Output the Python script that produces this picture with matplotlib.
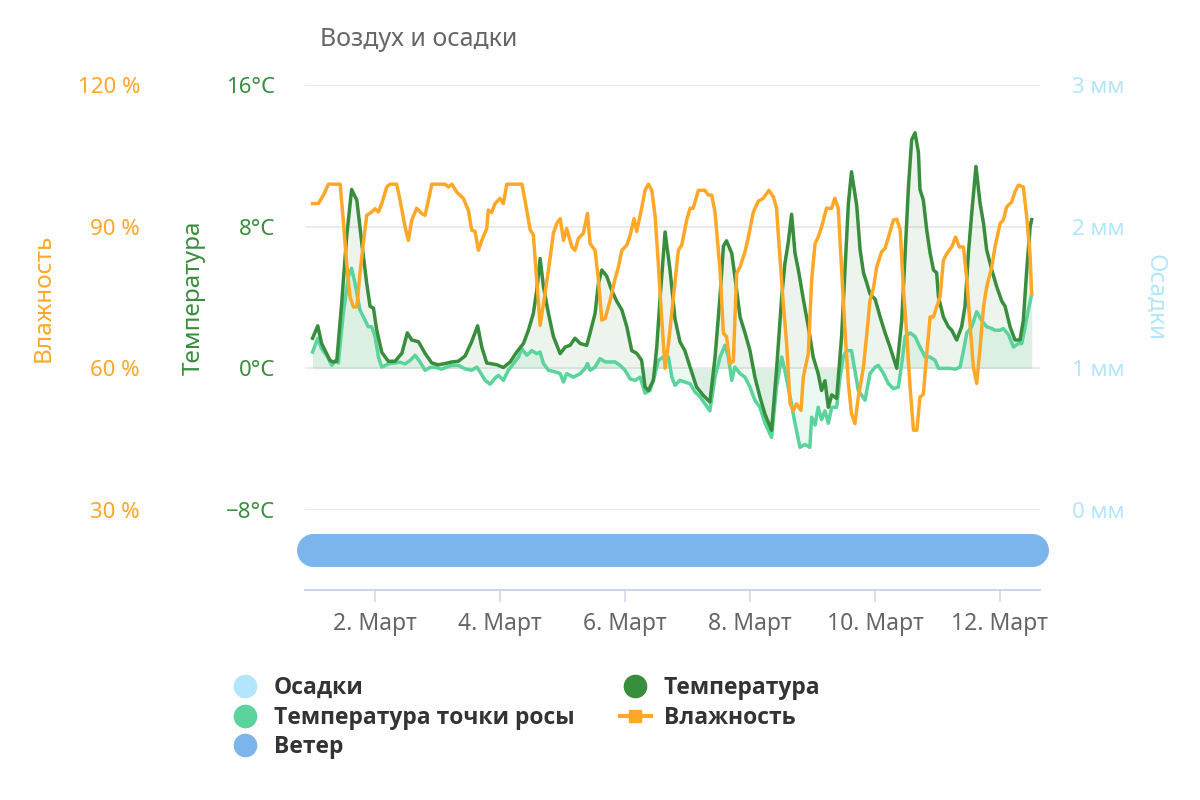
import matplotlib
matplotlib.use('Agg')
import matplotlib.pyplot as plt
from matplotlib.lines import Line2D

plt.rcParams['font.family'] = ['Noto Sans', 'DejaVu Sans']

# hours since 1. Март 00:00
temp_h = [0, 2, 3.5, 6.7, 8, 9.3, 11.2, 13.1, 15, 17, 18.9, 20.8, 22.1, 23.4, 24.6, 26.6, 29.1, 31.7,
          34.3, 36.4, 38.1, 40.7, 43.2, 45.8, 48.3, 50.9, 53.5, 56, 58.6, 61.1, 63.4, 65, 66.9,
          68.2, 70.8, 73.3, 75.9, 78.4, 81, 82.9, 84.8, 86.1, 87.4, 88.7, 90.6, 92.5, 95.1, 97, 98.9,
          100.8, 102.8, 105.3, 106.6, 108.5, 109.8, 111.1, 113, 114.9, 116.8, 118.8, 120.7, 122.6,
          124.5, 126.4, 127.7, 129, 130.9, 132.2, 133.5, 135.4, 137.3,
          139.2, 141.1, 143, 145, 147.5, 150.1, 152.6, 154.6, 156.5, 157.8, 159, 161, 162.2, 164.2,
          166.1, 168, 169.9, 171.8, 173.8, 176.3, 178.2, 180.2, 181.4, 182.7, 184, 185.3, 186.6,
          188.5, 190.4, 192.3, 194.2, 195.5, 196.8, 198.1, 199.4, 201.3, 203.2, 204.5, 205.8, 207, 209,
          210.3, 211.6, 212.9, 214.1, 216.1, 218, 219.9, 221.8, 224.4, 226.3, 227.6, 228.9, 230.1,
          231.4, 232.7, 233.3, 234.6, 235.9, 237.2, 238.5, 239.7, 240.4, 242.3, 244.2, 245.5, 247.4,
          249.3, 250.6, 251.9, 253.2, 254.8, 256.4, 257.7, 258.9, 260.9, 262.8, 264.7, 266, 267.9,
          269.8, 271.7, 273, 274.3, 275.6, 276.2]
temp_c = [1.7, 2.4, 1.4, 0.45, 0.36, 0.4, 3.7, 7.45, 10.1, 9.5, 7.1, 4.8, 3.5, 3.4, 2.2, 0.9, 0.4, 0.4,
          0.85, 2.0, 1.6, 1.5, 0.85, 0.3, 0.2, 0.27, 0.36, 0.4, 0.7, 1.5, 2.4, 1.2, 0.3,
          0.27, 0.2, 0.05, 0.36, 0.92, 1.4, 2.15, 3.1, 4.4, 6.2, 4.6, 3.1, 1.8, 0.83, 1.2, 1.3,
          1.7, 1.4, 1.3, 2.0, 3.1, 4.8, 5.55, 5.2, 4.4, 3.8, 3.3, 2.35, 1.0,
          0.85, 0.45, -1.06, -1.25, -0.68, 1.2, 4.0, 7.7, 5.55,
          2.8, 1.5, 1.0, 0.07, -1.06, -1.53, -1.9, 0.64, 4.05, 6.9, 7.2, 6.5, 5.2, 2.9,
          2.0, 1.0, -0.5, -1.6, -2.6, -3.5, -0.1, 4.05, 5.9, 7.1, 8.7, 6.5, 5.55,
          3.9, 2.35, 0.64, -0.3, -1.25, -0.7, -2.2, -1.5, -1.7, 1.8, 5.55, 9.3, 11.1, 9.2,
          6.7, 5.4, 4.8, 4.2, 3.9, 2.9, 2.0, 1.2, 0.0, 2.7, 6.5, 10.3, 12.9,
          13.3, 12.2, 10.1, 9.5, 7.8, 6.5, 5.55, 5.4, 4.05, 2.9, 2.35, 2.15, 1.6,
          2.35, 3.5, 6.5, 8.8, 11.4, 9.3, 8.2, 6.7, 5.55, 4.6, 3.8, 3.5, 2.35,
          1.6, 1.6, 2.7, 5.55, 8.0, 8.4]

dew_h = [0, 2, 3.5, 5.4, 7.4, 8.9, 9.9, 11.8, 13.8, 15, 16.3, 18.2, 20.2, 21.4, 22.7, 24, 25.3, 26.6,
         29.1, 31.7, 33.6, 35.5, 37.5, 39.4, 41.3, 43.2, 45.1, 47, 49.6, 51.5, 53.5, 56, 58.6, 61.1,
         63.1, 64.3, 66.3,
         68.2, 70.1, 71.4, 73.3, 75.2, 77.2, 79.1, 80.4, 82.3, 84.2, 86.1, 87.4, 88.7, 90.6, 93.2,
         95.1, 96.4, 97.6, 100.2, 102.8, 104.7, 105.6, 106.6, 108.5, 110.4, 112.4, 114.3, 116.2,
         118.1, 120, 122, 123.9, 125.8, 127.7, 129.6, 131.6, 132.8, 134.8, 136.7, 138,
         139.2, 141.1, 143, 145, 146.9, 148.8, 150.7, 152.6, 154.6, 156.5, 158.4, 159.7, 161, 162.2,
         164.2, 166.1, 168, 169.9, 171.8, 173.8, 176.3, 178.2, 180.2, 181.4, 183.4, 185.3, 187.2,
         189.1, 191, 191.7, 193, 194.2, 195.5, 196.8, 198.1, 199.4, 201.3, 202.6, 203.8, 205.1,
         207, 208.3, 209.6,
         210.3, 212.2, 214.1, 216.1, 217.3, 219.3, 221.2, 223.1, 225, 226.3, 227.6, 229.5, 231.4,
         233.3, 235.3, 237.2, 239.1, 240.4, 242.3, 244.9, 246.8, 248.7, 250, 251.3, 253.2, 255.1,
         257, 258.9, 260.9, 262.1, 264.1, 265.3, 267.3, 269.2, 271.1, 272.4, 273.7, 274.9, 276.2]
dew_c = [0.92, 1.7, 1.1, 0.74, 0.17, 0.45, 0.3, 3.1, 5.2, 5.65, 4.8, 3.3, 2.7, 2.35, 2.35, 1.8, 0.64, 0.07,
         0.25, 0.3, 0.35, 0.25, 0.45, 0.74, 0.36, -0.11, 0.05, 0.07, -0.05, 0.07, 0.17, 0.17, -0.03, -0.11,
         0.07, -0.2, -0.68,
         -0.9, -0.55, -0.4, -0.68, -0.11, 0.27, 0.64, 1.1, 0.74, 1.0, 0.83, 0.92, 0.27, -0.11, -0.2,
         -0.3, -0.77, -0.3, -0.5, -0.3, 0.0, 0.27, -0.11, 0.07, 0.55, 0.36, 0.36, 0.36,
         0.17, -0.11, -0.6, -0.68, -0.5, -1.4, -1.25, -0.3, 0.45, 0.64, 0.64, -0.5,
         -0.96, -0.68, -0.77, -0.87, -1.34, -1.6, -2.0, -2.4, -0.5, 0.64, 1.3, 0.64, -0.68, 0.07,
         -0.3, -0.5, -1.06, -1.8, -2.2, -3.1, -3.9, -1.06, 0.64, -0.11, -1.6, -3.1, -4.46,
         -4.3, -4.46, -2.76, -3.2, -2.2, -2.9, -2.4, -3.1, -2.2, -2.2, -0.5, 0.64, 1.0,
         1.0, -0.11, -1.25,
         -1.4, -1.8, -0.3, 0.07, 0.17, -0.3, -0.87, -1.15, -1.06, 0.27, 1.8, 2.0, 1.8,
         1.2, 0.64, 0.64, 0.45, 0.0, 0.0, 0.0, -0.05, 0.07, 1.0, 2.0, 2.35, 3.2,
         2.7, 2.35, 2.25, 2.15, 2.15, 2.25, 1.9, 1.2, 1.4, 1.4, 2.35, 3.3, 4.2]

hum_h = [0, 2.2, 4.2, 6.1, 10.6, 11.8, 13.1, 14.4, 15.7, 17, 18.2, 19.5, 20.8, 22.7, 24, 25.3, 26.6,
         28.5, 29.8, 32.3, 33.6, 35.5, 36.8, 38.1, 40, 41.9, 43.2, 44.5, 45.8, 50.9, 52.2, 53.5, 55.4,
         57.9, 59.9, 61.1, 62.4, 63.7, 65, 66.9, 67.5, 68.8,
         70.1, 72, 73.3, 74.6, 80.4, 81.6, 83.6, 84.8, 86.1, 87.4, 88.7, 90.6, 92.5, 93.8, 95.1, 96.4,
         97.6, 99.6, 100.8, 102.1, 104, 105.6, 106.6, 108.5, 109.8, 111.1, 112.4, 114.3, 116.2, 117.5,
         118.8, 120.7, 122, 123.5, 124.5, 126.4, 127.7, 129, 130.3, 131.6, 132.8, 134.1, 135.4, 136.7,
         138.6,
         140.5, 141.8, 143.7, 145, 146.2, 148.2, 150.7, 152, 153.3, 154.6, 156.5, 157.8, 159, 160.3,
         161.6, 162.9, 164.2, 166.1, 167.4, 169.3, 171.2, 173.1, 175.3, 177, 178.2, 179.5, 180.8,
         182.1, 183.4, 184.6, 185.9, 187.6, 188.5, 190.4, 191.7, 193, 194.2, 195.5, 197.4, 199.4,
         200.6, 201.9, 203.2, 204.5, 205.8, 207, 208.3, 209.6,
         210.3, 211.6, 212.9, 214.1, 215.4, 216.7, 218.6, 219.9, 221.2, 223.1, 224.4, 225.7, 226.9,
         228.2, 229.5, 230.8, 232.1, 233.3, 234.6, 235.9, 237.2, 238.5, 239.7, 241, 242.3, 243.6,
         245.5, 247, 248.4, 250, 251.3, 252.5, 253.8, 255.1, 256.4, 257.7, 258.9, 260.9, 262.1,
         264.1, 265.3, 266.6, 268.5, 269.8, 271.1, 273, 274.3, 275.6, 276.2]
hum_pct = [94.9, 94.9, 96.7, 99, 99, 91.4, 82.2, 75.1, 73, 73, 80.1, 86.4, 92.4, 93.1, 93.8, 93.1, 94.9,
           98.4, 99, 99, 95.6, 90, 87.1, 91.4, 93.9, 92.8, 92.4, 95.6, 99, 99, 98.4, 99, 97.3,
           96, 93.4, 89.3, 89, 85, 87.1, 89.6, 93.5, 93,
           94.9, 96, 94.9, 99, 99, 95.6, 89.3, 88.3, 78.7, 69.1, 73.7, 80.8, 88.6, 90.7, 91.7, 87.1,
           89.6, 85.7, 85, 87.5, 88.6, 92.8, 86.4, 85, 78.7, 70.2, 70.6, 74.4, 79, 81.5,
           85, 86.1, 88.2, 91.7, 89, 93.9, 97.7, 99, 97.7, 92.1, 82.2, 70.6, 60, 65.2,
           75.1,
           85, 86.1, 91.4, 93.9, 93.9, 97.7, 97.7, 96.7, 96.7, 93, 80.8, 67.4, 66.7, 61,
           61.5, 80.1, 81.5, 84.7, 87.8, 93.1, 95.4, 96, 97.7, 96.3, 93.9, 83.6, 73.7,
           65.2, 52.5, 51.1, 52.5, 51.1, 58.2, 63.1, 78.7, 86.4, 87.8, 89.9, 93.9, 93.9,
           96, 93.9, 80.8, 68.1, 56.8, 50.4, 48.3, 53.9,
           56, 60.3, 67.4, 74.4, 76.9, 81.5, 84.7, 85.4, 87.8, 91.4, 91.6, 89.3, 77.2,
           67.4, 56, 46.9, 46.9, 53.9, 54.5, 63.1, 70.9, 70.9, 73, 75.1, 82.9, 84.3,
           85.7, 87.8, 85.7, 85.7, 78.7, 69.5, 60.3, 56.8, 64.5, 73, 77.2, 81.5, 85.7,
           90.7, 91.4, 94.2, 95.2, 97.4, 98.8, 98.4, 92.1, 83.6, 75.8]

wind_h = [0, 276.2]
wind_level = [0, 0]

day_ticks = [24, 72, 120, 168, 216, 264]
day_labels = ['2. Март', '4. Март', '6. Март', '8. Март', '10. Март', '12. Март']
temp_ticks = [-8, 0, 8, 16]
hum_ticks = [30, 60, 90, 120]
rain_ticks = [0, 1, 2, 3]

c_temp = '#388e3c'
c_dew = '#5ad39c'
c_hum = '#ffa726'
c_rain = '#b3e5fc'
c_wind = '#7cb5ec'

fig = plt.figure(figsize=(12, 8), dpi=100)
ax = fig.add_axes([305/1200, 1-510/800, 735/1200, 425/800])
ax.set_xlim(-2.9, 279.4)
ax.set_ylim(-8, 16)

#temperature and dew point areas
ax.fill_between(temp_h, temp_c, 0, color=c_temp, alpha=0.09, lw=0)
ax.fill_between(dew_h, dew_c, 0, color=c_dew, alpha=0.12, lw=0)
ax.plot(dew_h, dew_c, color=c_dew, lw=2.5, solid_joinstyle='round')
ax.plot(temp_h, temp_c, color=c_temp, lw=2.5, solid_joinstyle='round')

ax.set_xticks([])
ax.set_yticks(temp_ticks)
ax.set_yticklabels([f'{t}°C'.replace('-', '−') for t in temp_ticks])
ax.tick_params(axis='y', length=0, pad=21.6, labelcolor=c_temp, labelsize=16)
ax.grid(axis='y', color='#e6e6e6', lw=1.1)
ax.set_axisbelow(True)
for s in ax.spines.values():
    s.set_visible(False)
ax.set_ylabel('Температура', color=c_temp, fontsize=17.5)
ax.yaxis.set_label_coords(-0.151, 0.5)
ax.yaxis.label.set_va('center')

#humidity, left outer axis
ax_h = ax.twinx()
ax_h.set_ylim(30, 120)
ax_h.plot(hum_h, hum_pct, color=c_hum, lw=2.5, solid_joinstyle='round')
ax_h.yaxis.tick_left()
ax_h.set_yticks(hum_ticks)
ax_h.set_yticklabels([f'{v} %' for v in hum_ticks])
ax_h.tick_params(axis='y', length=0, pad=118.8, labelcolor=c_hum, labelsize=16)
for s in ax_h.spines.values():
    s.set_visible(False)
ax_h.yaxis.set_label_position('left')
ax_h.set_ylabel('Влажность', color=c_hum, fontsize=17.5)
ax_h.yaxis.set_label_coords(-0.355, 0.5)
ax_h.yaxis.label.set_va('center')

#precipitation, right axis (no rain)
ax_p = ax.twinx()
ax_p.set_ylim(0, 3)
ax_p.set_yticks(rain_ticks)
ax_p.set_yticklabels([f'{v} мм' for v in rain_ticks])
ax_p.tick_params(axis='y', length=0, pad=23, labelcolor=c_rain, labelsize=16)
for s in ax_p.spines.values():
    s.set_visible(False)
ax_p.set_ylabel('Осадки', color=c_rain, fontsize=17.5, rotation=270)
ax_p.yaxis.set_label_coords((1155-305)/735, 0.5)
ax_p.yaxis.label.set_va('center')

#wind strip with the date axis
axw = fig.add_axes([305/1200, 1-590/800, 735/1200, 80/800])
axw.set_xlim(-2.9, 279.4)
axw.set_ylim(-1, 1)
axw.plot(wind_h, wind_level, color=c_wind, lw=23.8, solid_capstyle='round', clip_on=False)
axw.set_yticks([])
axw.set_xticks(day_ticks)
axw.set_xticklabels(day_labels)
axw.tick_params(axis='x', length=8.6, width=1.1, color='#ccd6eb', pad=7, labelsize=16.5,
                labelcolor='#666666')
for k in ['top', 'left', 'right']:
    axw.spines[k].set_visible(False)
axw.spines['bottom'].set_color('#ccd6eb')
axw.spines['bottom'].set_linewidth(1.5)

fig.text(320/1200, 1-40/800, 'Воздух и осадки', fontsize=18, color='#666666', ha='left', va='center')

#legend
handles = [
    Line2D([], [], ls='none', marker='o', ms=16, color=c_rain),
    Line2D([], [], ls='none', marker='o', ms=16, color=c_dew),
    Line2D([], [], ls='none', marker='o', ms=16, color=c_wind),
    Line2D([], [], ls='none', marker='o', ms=16, color=c_temp),
    Line2D([], [], color=c_hum, lw=3, marker='s', ms=8),
]
names = ['Осадки', 'Температура точки росы', 'Ветер', 'Температура', 'Влажность']
fig.legend(handles, names, ncol=2, loc='upper left', bbox_to_anchor=(230/1200, 1-676/800),
           frameon=False, prop={'family': ['Open Sans', 'DejaVu Sans'], 'weight': 'bold', 'size': 16.5},
           labelcolor='#333333', handlelength=1.35, handletextpad=0.55, columnspacing=2.0,
           labelspacing=0.25, borderpad=0, borderaxespad=0)

fig.savefig('out.png', dpi=100)
